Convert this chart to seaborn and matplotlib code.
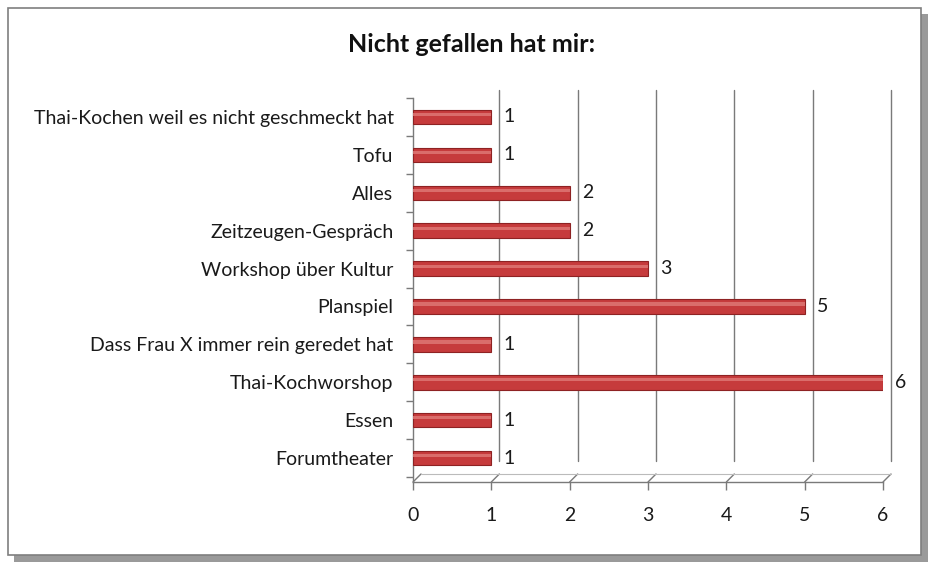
import matplotlib
matplotlib.use("Agg")
import matplotlib.pyplot as plt
import matplotlib.patches as mpatches
import matplotlib.transforms as mtrans
import seaborn as sns
import pandas as pd
import numpy as np

categories = [
    "Thai-Kochen weil es nicht geschmeckt hat",
    "Tofu",
    "Alles",
    "Zeitzeugen-Gespräch",
    "Workshop über Kultur",
    "Planspiel",
    "Dass Frau X immer rein geredet hat",
    "Thai-Kochworshop",
    "Essen",
    "Forumtheater",
]
values = [1, 1, 2, 2, 3, 5, 1, 6, 1, 1]
xticks = [0, 1, 2, 3, 4, 5, 6]
title = "Nicht gefallen hat mir:"

sns.set_theme(style="white")
plt.rcParams["font.family"] = ["Lato", "DejaVu Sans"]

W, H = 933, 566
fig = plt.figure(figsize=(W / 100, H / 100), dpi=100)
fig.patch.set_facecolor("white")

# frame with shadow
shadow = mpatches.Rectangle((14 / W, 1 - 562 / H), 914 / W, 548 / H, transform=fig.transFigure,
                            facecolor="#9a9a9a", edgecolor="none", zorder=0)
frame = mpatches.Rectangle((8 / W, 1 - 555 / H), 913 / W, 547 / H, transform=fig.transFigure,
                           facecolor="white", edgecolor="#7f7f7f", linewidth=1.2, zorder=1)
fig.patches.extend([shadow, frame])

left, right = 413, 883
top, bottom = 98, 482
ax = fig.add_axes([left / W, 1 - bottom / H, (right - left) / W, (bottom - top) / H])
ax.set_facecolor("none")
ax.set_zorder(2)

df = pd.DataFrame({"cat": categories, "val": values})
sns.barplot(data=df, y="cat", x="val", orient="h", order=categories, color="#c63b3c",
            width=0.38, edgecolor="#8e2223", linewidth=0.8, saturation=1, ax=ax, zorder=3)
# highlight stripe for cylinder look
for p in list(ax.patches):
    x0, y0 = p.get_x(), p.get_y()
    w, h = p.get_width(), p.get_height()
    hl = mpatches.Rectangle((x0, y0 + h * 0.22), w, h * 0.22, facecolor="#e07a78",
                            edgecolor="none", alpha=0.8, zorder=4)
    ax.add_patch(hl)

ax.set_xlim(0, 6)
ax.set_ylim(9.63, -0.5)
ax.set_xlabel("")
ax.set_ylabel("")

# gridlines drawn at back (offset as in 3D)
off = mtrans.ScaledTranslation(8 / 100, 8 / 100, fig.dpi_scale_trans)
for xv in xticks[1:]:
    ax.plot([xv, xv], [9.3, -0.5], color="#7a7a7a", lw=1.0, zorder=1,
            transform=ax.transData + off, clip_on=False)
# diagonal connectors at the base
inv = ax.transData.inverted()
for xv in xticks:
    x_disp, y_disp = ax.transData.transform((xv, 9.63))
    p2 = inv.transform((x_disp + 8, y_disp + 8))
    ax.plot([xv, p2[0]], [9.63, p2[1]], color="#7a7a7a", lw=1.0, clip_on=False, zorder=1)
# back floor line
p_back_l = inv.transform(np.array(ax.transData.transform((0, 9.63))) + 8)
p_back_r = inv.transform(np.array(ax.transData.transform((6, 9.63))) + 8)
ax.plot([p_back_l[0], p_back_r[0]], [p_back_l[1], p_back_r[1]], color="#bbbbbb", lw=0.8,
        clip_on=False, zorder=1)

for s in ["top", "right"]:
    ax.spines[s].set_visible(False)
ax.spines["left"].set_color("#7a7a7a")
ax.spines["bottom"].set_color("#7a7a7a")
ax.spines["left"].set_linewidth(1.0)
ax.spines["bottom"].set_linewidth(1.0)

ax.set_xticks(xticks)
ax.set_xticklabels([str(t) for t in xticks], fontsize=14, color="#1a1a1a")
ax.tick_params(axis="x", length=6, width=1, color="#7a7a7a", pad=12, direction="out", bottom=True)
ax.set_yticks(range(len(categories)))
ax.set_yticklabels(categories, fontsize=14, color="#1a1a1a")
ax.tick_params(axis="y", length=0, pad=14)
ax.set_yticks(np.arange(-0.5, len(categories), 1), minor=True)
ax.tick_params(axis="y", which="minor", length=5, width=1, color="#7a7a7a", left=True)

for i, v in enumerate(values):
    ax.annotate(str(v), (v, i), xytext=(9, 0), textcoords="offset points",
                va="center", ha="left", fontsize=14, color="#1a1a1a", zorder=5)

fig.text(472 / W, 1 - 45 / H, title, ha="center", va="center", fontsize=18,
         fontweight="bold", color="#111111")

fig.savefig("out.png", dpi=100)
